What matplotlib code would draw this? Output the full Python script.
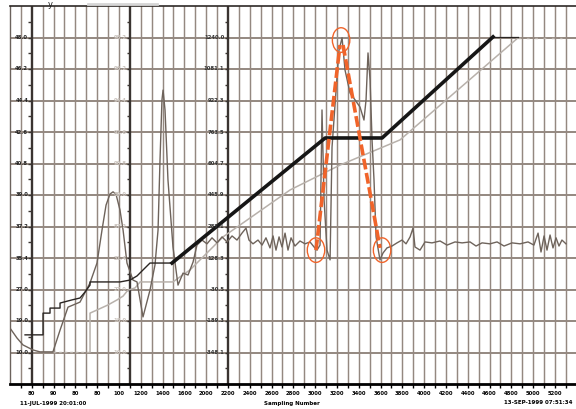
import matplotlib.pyplot as plt
from matplotlib.patches import Ellipse
from matplotlib.lines import Line2D

# ---- data (sampling number vs. value, grid cell = 100) ----
step_x = [139, 304, 304, 368, 368, 460, 460, 570, 643, 689, 735, 735, 1010, 1102, 1166, 1221, 1285, 1487]
step_y = [156, 156, 225, 225, 241, 241, 257, 267, 273, 292, 314, 324, 324, 330, 343, 362, 384, 384]

ramp_x = [1487, 2892, 3414, 4432]
ramp_y = [384, 781, 781, 1102]
ramp_tail_x = [4432, 4661]
ramp_tail_y = [1102, 1102]

gray_x = [735, 735, 799, 900, 983, 1038, 1083, 1148, 1194, 1496, 1560, 1652, 1955, 2570, 3028, 3579, 4661]
gray_y = [102, 225, 235, 251, 267, 279, 298, 305, 324, 324, 340, 362, 467, 616, 695, 775, 1099]
gray_lead_x = [395, 735]
gray_lead_y = [102, 102]
gray_tail_x = [4661, 5064]
gray_tail_y = [1099, 1099]

sig_x = [0, 65, 120, 212, 276, 395, 460, 533, 643, 735, 799, 845, 882, 918, 946, 973, 1010,
         1038, 1074, 1129, 1166, 1221, 1285, 1331, 1359, 1377, 1395, 1405, 1423, 1450, 1496,
         1542, 1588, 1634, 1680, 1716, 1762, 1808, 1854, 1900, 1946, 1992, 2038, 2083, 2129,
         2166, 2193, 2230, 2276, 2313, 2349, 2386, 2414, 2441, 2469, 2496, 2524, 2551, 2579,
         2615, 2661, 2707, 2753, 2790, 2817, 2845, 2863, 2882, 2909, 2937, 2955, 2992, 3019,
         3047, 3074, 3120, 3166, 3212, 3248, 3267, 3285, 3304, 3322, 3340, 3359, 3395, 3423,
         3459, 3505, 3551, 3597, 3634, 3671, 3698, 3716, 3762, 3808, 3872, 3946, 4010, 4083,
         4148, 4221, 4276, 4331, 4404, 4469, 4533, 4606, 4680, 4753, 4807, 4845, 4872, 4900,
         4927, 4955, 4982, 5010, 5037, 5064, 5101]
sig_y = [178, 146, 124, 108, 102, 102, 171, 244, 260, 321, 384, 489, 568, 603, 610, 603, 552,
         489, 384, 330, 324, 213, 298, 378, 489, 711, 902, 933, 870, 648, 435,
         314, 352, 346, 387, 441, 457, 445, 464, 448, 467, 451, 470, 457, 479,
         495, 457, 445, 457, 441, 464, 432, 470, 425, 467, 435, 479, 425, 464,
         438, 454, 445, 451, 435, 425, 441, 870, 584, 425, 394, 752, 933, 1060,
         1099, 997, 924, 902, 879, 838, 902, 1051, 965, 775, 648, 467, 394, 416,
         432, 438, 448, 457, 445, 467, 495, 435, 425, 451, 448, 454, 441, 451,
         448, 451, 438, 448, 445, 451, 438, 448, 445, 451, 441, 479, 419, 470,
         425, 473, 432, 464, 438, 457, 445]

# orange marking: triangle legs and circled points
tri_left_x = [2808, 3028]
tri_left_y = [425, 1076]
tri_right_x = [3056, 3395]
tri_right_y = [1076, 432]
circle_x = [3038, 2808, 3414]
circle_y = [1092, 425, 425]

# axis labels
rows = [1100, 1000, 900, 800, 700, 600, 500, 400, 300, 200, 100]
axis1_labels = ['48.0', '46.2', '44.4', '42.6', '40.8', '39.0', '37.2', '35.4', '27.0', '19.0', '10.0']
axis2_labels = ['98.2', '96.2', '94.4', '92.6', '90.8', '89.0', '87.2', '31.4', '27.0', '18.0', '10.0']
axis3_labels = ['1240.0', '1081.1', '922.3', '763.5', '604.7', '445.9', '287.1', '128.3',
                '-30.5', '-189.3', '-348.1']
axis_pos = [200, 1100, 2000]

xtick_pos = list(range(200, 5001, 200))
xtick_labels = ['80', '90', '80', '80', '100', '1200', '1400', '1600', '2000', '2200', '2400',
                '2600', '2800', '3000', '3200', '3400', '3600', '3800', '4000', '4200', '4400',
                '4600', '4800', '5000', '5200']

GRID = '#948880'
AXIS = '#3a3431'
BROWN = '#6e635b'
LIGHT = '#b8b1ab'
ORANGE = '#f0642a'

fig = plt.figure(figsize=(5.76, 4.09), dpi=100)
ax = fig.add_axes([9.9 / 576, 25 / 409, 566.1 / 576, 378 / 409])
ax.set_xlim(0, 5193)
ax.set_ylim(0, 1200)

# grid
for gx in range(100, 5193, 100):
    if gx in axis_pos:
        continue
    ax.axvline(gx, color=GRID, lw=1.05, zorder=1)
for gy in range(100, 1200, 100):
    ax.axhline(gy, color=GRID, lw=1.4, zorder=1)
for apos in axis_pos:
    ax.axvline(apos, color=AXIS, lw=1.7, zorder=2)
    ax.hlines(range(50, 1200, 50), apos - 30, apos, color=AXIS, lw=1.0, zorder=2)

# traces
ax.plot(gray_lead_x, gray_lead_y, color=LIGHT, lw=1.0, ls=(0, (2, 2)), zorder=3)
ax.plot(gray_x, gray_y, color=LIGHT, lw=1.1, zorder=3)
ax.plot(gray_tail_x, gray_tail_y, color=LIGHT, lw=1.0, ls=(0, (2, 4)), zorder=3)
ax.plot(sig_x, sig_y, color=BROWN, lw=1.0, zorder=4)
ax.plot(step_x, step_y, color='#2a2522', lw=1.0, zorder=4)
ax.plot(ramp_tail_x, ramp_tail_y, color='#2a2522', lw=0.9, zorder=4)
ax.plot(ramp_x, ramp_y, color='#161616', lw=2.6, zorder=5)

ax.plot(tri_left_x, tri_left_y, color=ORANGE, lw=2.6, ls=(0, (3, 1)), zorder=6)
ax.plot(tri_right_x, tri_right_y, color=ORANGE, lw=2.6, ls=(0, (3, 1)), zorder=6)
for cx, cy in zip(circle_x, circle_y):
    ax.add_patch(Ellipse((cx, cy), 160, 78, fill=False, ec=ORANGE, lw=1.0, zorder=6))

# axis labels on the three value axes
lab_kw = dict(textcoords='offset points', xytext=(-2.5, 0), ha='right', va='center',
              fontsize=3.8, fontweight='bold', zorder=7)
for r, lab in zip(rows, axis1_labels):
    ax.annotate(lab, (axis_pos[0], r), color='#222222', **lab_kw)
for r, lab in zip(rows, axis2_labels):
    ax.annotate(lab, (axis_pos[1], r), color='#c9c2bc', **lab_kw)
for r, lab in zip(rows, axis3_labels):
    ax.annotate(lab, (axis_pos[2], r), color='#333333', **lab_kw)

# frame
ax.spines['right'].set_visible(False)
ax.spines['left'].set_color('#6b625c')
ax.spines['left'].set_linewidth(1.0)
ax.spines['top'].set_color('#2e2926')
ax.spines['top'].set_linewidth(1.2)
ax.spines['bottom'].set_color('black')
ax.spines['bottom'].set_linewidth(2.0)
ax.set_yticks([])
ax.set_xticks(xtick_pos)
ax.set_xticklabels(xtick_labels, fontsize=3.8, fontweight='bold')
ax.set_xticks(range(100, 5193, 100), minor=True)
ax.tick_params(axis='x', which='both', direction='out', length=3, width=1, color='black', pad=2)

fig.text(20 / 576, 1 - 403 / 409, '11-JUL-1999 20:01:00', fontsize=4, fontweight='bold',
         va='center', ha='left')
fig.text(292 / 576, 1 - 403 / 409, 'Sampling Number', fontsize=4, fontweight='bold',
         va='center', ha='center')
fig.text(572 / 576, 1 - 402 / 409, '13-SEP-1999 07:51:34', fontsize=4, fontweight='bold',
         va='center', ha='right')
fig.text(50 / 576, 1.0, 'y', fontsize=6, va='top', ha='center', color='#222222')
fig.add_artist(Line2D([88 / 576, 157 / 576], [1 - 4 / 409, 1 - 4 / 409],
                      color='#d6d6d6', lw=2.0))

fig.savefig('out.png', dpi=100)
